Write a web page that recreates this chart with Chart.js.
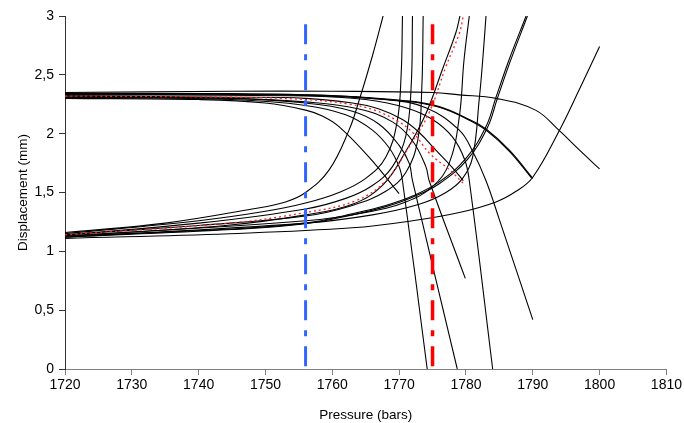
<!DOCTYPE html>
<html>
<head>
<meta charset="utf-8">
<script src="https://cdn.jsdelivr.net/npm/chart.js@4.4.1/dist/chart.umd.min.js"></script>
<style>
  html, body { margin: 0; padding: 0; background: #fff; }
  #wrap { width: 684px; height: 423px; }
</style>
</head>
<body>
<div id="wrap"><canvas id="chart"></canvas></div>
<script>
// axis ranges
const pressureRange = [1720, 1810]
const displacementRange = [0, 3]

// vertical markers (pressure, displacement)
const blueMarker = [[1756, 2.93], [1756, 0]]
const redMarker = [[1775, 2.93], [1775, 0]]

// lower branches (pressure, displacement)
const lowA = [[1720, 1.16], [1735, 1.24], [1748, 1.36], [1753, 1.42], [1756, 1.50], [1759.5, 1.69], [1762.5, 2.03], [1764, 2.28], [1766, 2.66], [1767.6, 3]]
const lowB = [[1720, 1.15], [1740, 1.26], [1750, 1.34], [1756, 1.41], [1761, 1.50], [1765, 1.62], [1768, 1.80], [1769.7, 2.10], [1770.3, 2.50], [1770.5, 3]]
const lowC = [[1720, 1.14], [1740, 1.24], [1756, 1.36], [1762, 1.45], [1766, 1.56], [1769, 1.72], [1771, 1.98], [1771.8, 2.40], [1772, 3]]
const lowD = [[1720, 1.14], [1740, 1.22], [1756, 1.30], [1763, 1.39], [1768, 1.51], [1771, 1.67], [1772.8, 1.95], [1773.4, 2.40], [1773.6, 3]]
const lowRed = [[1720, 1.14], [1744.6, 1.24], [1756, 1.33], [1763.5, 1.43], [1768, 1.60], [1771.5, 1.89], [1774.5, 2.18], [1777, 2.57], [1779, 2.85], [1779.6, 3]]
const lowT = [[1720, 1.13], [1744, 1.22], [1756, 1.31], [1763, 1.40], [1767.5, 1.56], [1771, 1.85], [1774, 2.17], [1776.5, 2.55], [1778.5, 2.86], [1779.1, 3]]
const lowE = [[1720, 1.13], [1756, 1.26], [1765, 1.33], [1771, 1.42], [1775, 1.55], [1777.5, 1.75], [1779, 2.14], [1779.7, 2.62], [1780.5, 3]]
const lowF = [[1720, 1.12], [1756, 1.24], [1766, 1.31], [1773, 1.40], [1777, 1.50], [1779.5, 1.62], [1781, 1.80], [1782, 2.30], [1782.5, 2.62], [1783, 3]]
const lowG1 = [[1720, 1.13], [1745, 1.19], [1756, 1.24], [1763, 1.32], [1768, 1.39], [1772, 1.47], [1776, 1.59], [1780, 1.79], [1783, 2.06], [1784.5, 2.31], [1786.4, 2.62], [1789, 3]]
const lowG2 = [[1720, 1.12], [1745, 1.185], [1756, 1.235], [1763, 1.31], [1768, 1.38], [1772, 1.46], [1776, 1.575], [1780.2, 1.78], [1783.2, 2.05], [1784.7, 2.30], [1786.6, 2.61], [1789.2, 3]]
const lowH = [[1720, 1.11], [1744.6, 1.15], [1763, 1.20], [1772, 1.26], [1779, 1.33], [1784.5, 1.42], [1787.5, 1.51], [1790, 1.63], [1794, 2.03], [1797, 2.38], [1800, 2.74]]

// upper branches (pressure, displacement)
const upA = [[1720, 2.30], [1740, 2.29], [1750, 2.26], [1756, 2.20], [1758.5, 2.15], [1761, 2.06], [1765.5, 1.80], [1770, 1.49]]
const upB = [[1720, 2.31], [1745, 2.29], [1756, 2.24], [1762, 2.16], [1766, 2.03], [1768.5, 1.88], [1770, 1.72], [1770.5, 1.60], [1774.2, 0]]
const upC = [[1720, 2.31], [1745, 2.30], [1756, 2.26], [1763, 2.19], [1767, 2.08], [1770, 1.90], [1771.5, 1.75], [1772, 1.60], [1778.7, 0]]
const upD = [[1720, 2.32], [1745, 2.30], [1756, 2.27], [1764, 2.21], [1769, 2.10], [1772, 1.94], [1774, 1.72], [1774.5, 1.60], [1779.9, 0.77]]
const upRed = [[1720, 2.32], [1744.6, 2.31], [1756, 2.29], [1762.6, 2.25], [1766.3, 2.20], [1769.7, 2.11], [1772.2, 2.00], [1774.6, 1.83], [1777.6, 1.69], [1779.9, 1.56]]
const upT = [[1720, 2.32], [1745, 2.31], [1756, 2.30], [1763, 2.26], [1767, 2.21], [1770.5, 2.12], [1773, 2.01], [1775.5, 1.86], [1778, 1.71], [1779.6, 1.60]]
const upE = [[1720, 2.33], [1756, 2.32], [1765, 2.29], [1771, 2.22], [1775, 2.12], [1778, 1.97], [1779.8, 1.78], [1780.5, 1.60], [1784, 0]]
const upF = [[1720, 2.33], [1756, 2.33], [1768, 2.29], [1774, 2.22], [1779, 2.03], [1781, 1.85], [1783, 1.60], [1785, 1.27], [1790, 0.42]]
const upG1 = [[1720, 2.34], [1745, 2.34], [1761, 2.32], [1771, 2.28], [1776, 2.23], [1780.5, 2.12], [1783, 2.04], [1786.5, 1.86], [1790, 1.62]]
const upG2 = [[1720, 2.335], [1745, 2.335], [1761, 2.315], [1771, 2.275], [1776, 2.225], [1780.5, 2.115], [1783, 2.03], [1786.5, 1.85], [1789.8, 1.625]]
const upH = [[1720, 2.35], [1745, 2.36], [1760, 2.36], [1775, 2.35], [1779, 2.33], [1784.5, 2.30], [1790.4, 2.20], [1793.9, 2.03], [1797, 1.86], [1800, 1.70]]

const blackCurves = [lowA, lowB, lowC, lowD, lowT, lowE, lowF, lowG1, lowG2, lowH,
  upA, upB, upC, upD, upT, upE, upF, upG1, upG2, upH]

const toPoints = arr => arr.map(([x, y]) => ({ x, y }))

Chart.defaults.font.family = "'Liberation Sans', Arial, sans-serif"
Chart.defaults.font.size = 14
Chart.defaults.color = '#000'

// first datasets are painted last (on top), so markers go first
const datasets = [
  { data: toPoints(blueMarker), borderColor: '#3366ff', borderWidth: 3, borderDash: [20, 10, 6, 10], tension: 0 },
  { data: toPoints(redMarker), borderColor: '#ff0000', borderWidth: 3.5, borderDash: [20, 10, 6, 10], tension: 0 },
  { data: toPoints(lowRed), borderColor: '#ff2020', borderWidth: 1.3, borderDash: [2, 3], tension: 0.4 },
  { data: toPoints(upRed), borderColor: '#ff2020', borderWidth: 1.3, borderDash: [2, 3], tension: 0.4 }
]

blackCurves.forEach(c => datasets.push({
  data: toPoints(c),
  borderColor: '#000',
  borderWidth: 1.1,
  tension: 0.4
}))

new Chart('chart', {
  type: 'scatter',
  data: { datasets },
  options: {
    responsive: true,
    maintainAspectRatio: false,
    animation: false,
    showLine: true,
    elements: { point: { radius: 0 } },
    layout: { padding: { top: 16, right: 17, left: 0, bottom: 0 } },
    plugins: { legend: { display: false }, tooltip: { enabled: false } },
    scales: {
      x: {
        type: 'linear',
        min: pressureRange[0],
        max: pressureRange[1],
        ticks: { stepSize: 10, padding: 2, maxRotation: 0, callback: v => String(v) },
        grid: { drawOnChartArea: false, drawTicks: true, tickLength: 6, color: '#808080' },
        border: { display: true, color: '#808080' },
        title: { display: true, text: 'Pressure (bars)', font: { size: 13.5 }, padding: { top: 7, bottom: 0 } },
        afterFit: s => { s.height = 54 }
      },
      y: {
        min: displacementRange[0],
        max: displacementRange[1],
        ticks: { stepSize: 0.5, padding: 5, callback: v => String(v).replace('.', ',') },
        grid: { drawOnChartArea: false, drawTicks: true, tickLength: 6, color: '#333' },
        border: { display: true, color: '#333' },
        title: { display: true, text: 'Displacement (mm)', font: { size: 13.5 }, padding: { top: 15, bottom: 0 } },
        afterFit: s => { s.width = 65 }
      }
    }
  }
})
</script>
</body>
</html>
